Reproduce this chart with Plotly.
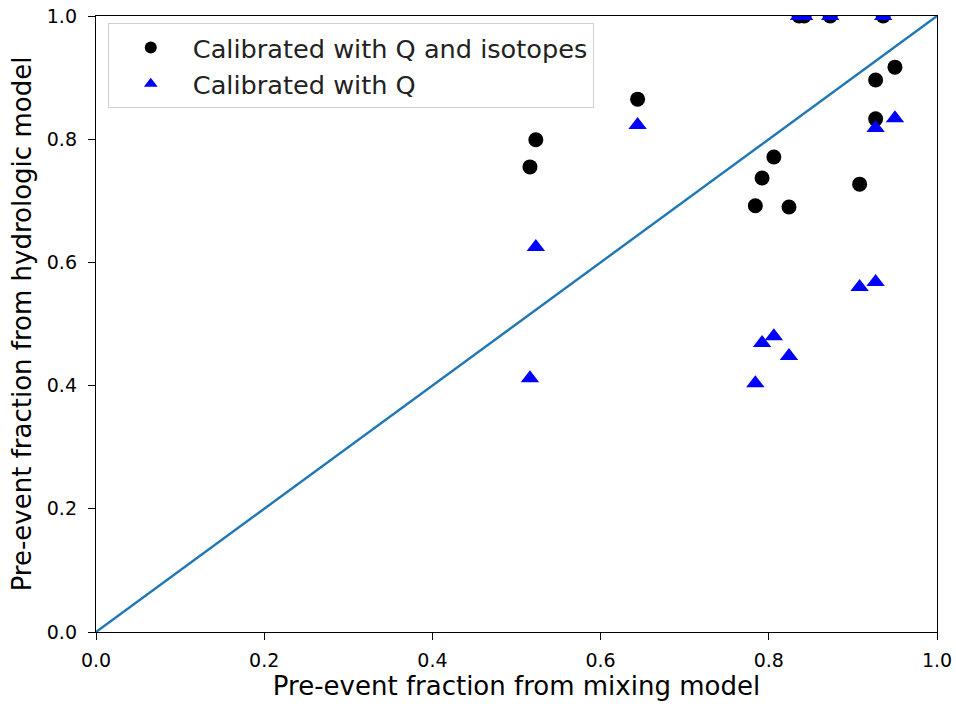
import plotly.graph_objects as go

mix_x = [0.516, 0.523, 0.644, 0.784, 0.792, 0.806, 0.824, 0.836, 0.842, 0.873, 0.908, 0.927, 0.927, 0.936, 0.950]
hyd_q_iso = [0.755, 0.799, 0.865, 0.692, 0.737, 0.771, 0.690, 1.0, 1.0, 1.0, 0.727, 0.896, 0.833, 1.0, 0.917]
hyd_q = [0.412, 0.625, 0.823, 0.404, 0.469, 0.480, 0.448, 1.0, 1.0, 1.0, 0.560, 0.568, 0.818, 1.0, 0.834]
line_x = [0, 1]
line_y = [0, 1]
ticks = [0.0, 0.2, 0.4, 0.6, 0.8, 1.0]
tick_text = ["0.0", "0.2", "0.4", "0.6", "0.8", "1.0"]

fig = go.Figure()
fig.add_trace(go.Scatter(x=line_x, y=line_y, mode="lines",
                         line=dict(color="#1f77b4", width=2.4), showlegend=False))
fig.add_trace(go.Scatter(x=mix_x, y=hyd_q_iso, mode="markers", name="Calibrated with Q and isotopes",
                         marker=dict(symbol="circle", size=15, color="black")))
fig.add_trace(go.Scatter(x=mix_x, y=hyd_q, mode="markers", name="Calibrated with Q",
                         marker=dict(symbol="triangle-up", size=16, color="blue")))

axis_common = dict(range=[0, 1], tickvals=ticks, ticktext=tick_text, showgrid=False, zeroline=False,
                   showline=True, linecolor="black", linewidth=1.4, mirror=True,
                   ticks="outside", ticklen=7, tickwidth=1.4, tickcolor="black",
                   tickfont=dict(family="DejaVu Sans", size=19, color="black"))
fig.update_xaxes(**axis_common, ticklabelstandoff=4,
                 title=dict(text="Pre-event fraction from mixing model",
                            font=dict(family="DejaVu Sans", size=26, color="black"), standoff=5))
fig.update_yaxes(**axis_common, ticklabelstandoff=7,
                 title=dict(text="Pre-event fraction from hydrologic model",
                            font=dict(family="DejaVu Sans", size=26, color="black"), standoff=7))

fig.update_layout(
    width=956, height=704,
    margin=dict(l=96, r=19, t=16, b=72, autoexpand=False),
    plot_bgcolor="white", paper_bgcolor="white",
    font=dict(family="DejaVu Sans", color="black"),
    legend=dict(x=0.014, y=0.988, xanchor="left", yanchor="top",
                bgcolor="white", bordercolor="#d0d0d0", borderwidth=1,
                font=dict(family="DejaVu Sans", size=25.6, color="#222222"),
                itemsizing="constant", itemwidth=74, tracegroupgap=0),
)
fig.write_html("out.html")
